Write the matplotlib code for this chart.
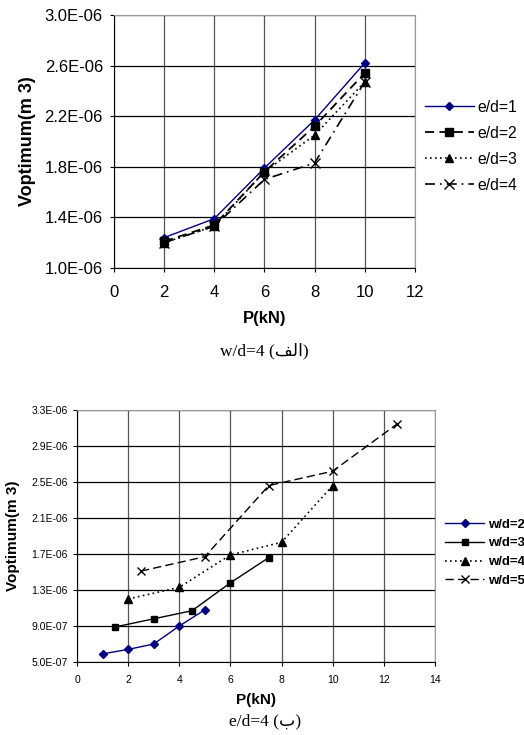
import matplotlib
matplotlib.use('Agg')
import matplotlib.pyplot as plt
from matplotlib.ticker import FuncFormatter

# ---- data: chart (a), w/d=4 ----
p_top = [2, 4, 6, 8, 10]
ed1 = [1.24e-6, 1.39e-6, 1.79e-6, 2.17e-6, 2.62e-6]
ed2 = [1.21e-6, 1.34e-6, 1.76e-6, 2.12e-6, 2.54e-6]
ed3 = [1.20e-6, 1.33e-6, 1.76e-6, 2.05e-6, 2.47e-6]
ed4 = [1.20e-6, 1.33e-6, 1.70e-6, 1.83e-6, 2.47e-6]
top_labels = ['e/d=1', 'e/d=2', 'e/d=3', 'e/d=4']

# ---- data: chart (b), e/d=4 ----
p_wd2 = [1, 2, 3, 4, 5]
wd2 = [0.59e-6, 0.64e-6, 0.70e-6, 0.90e-6, 1.08e-6]
p_wd3 = [1.5, 3, 4.5, 6, 7.5]
wd3 = [0.89e-6, 0.98e-6, 1.07e-6, 1.38e-6, 1.66e-6]
p_wd4 = [2, 4, 6, 8, 10]
wd4 = [1.20e-6, 1.33e-6, 1.69e-6, 1.83e-6, 2.46e-6]
p_wd5 = [2.5, 5, 7.5, 10, 12.5]
wd5 = [1.51e-6, 1.67e-6, 2.46e-6, 2.62e-6, 3.14e-6]
bot_labels = ['w/d=2', 'w/d=3', 'w/d=4', 'w/d=5']

# captions (Arabic letters in presentation forms, visual order)
cap_top = 'w/d=4 (\uFED2\uFEDF\uFE8D)'
cap_bot = 'e/d=4 (\uFE8F)'

plt.rcParams['font.family'] = ['Liberation Sans', 'DejaVu Sans']

navy = '#000080'
fmt = FuncFormatter(lambda v, pos: f'{v:.1E}')


def style_axes(ax, tick_size, pad):
    ax.set_axisbelow(True)
    ax.yaxis.grid(True, color='black', lw=0.9)
    ax.xaxis.grid(True, color='#555555', lw=0.9)
    ax.spines['top'].set_color('#999999')
    ax.spines['right'].set_color('#999999')
    ax.tick_params(direction='out', length=3, width=0.8, labelsize=tick_size, pad=pad)
    ax.yaxis.set_major_formatter(fmt)


fig = plt.figure(figsize=(5.24, 7.35), dpi=100)

# ---- chart (a) ----
ax1 = fig.add_axes([0.2176, 0.6354, 0.574, 0.3442])
ax1.plot(p_top, ed1, color=navy, lw=1, marker='D', ms=4.5, label=top_labels[0])
ax1.plot(p_top, ed2, color='black', lw=1.3, ls=(0, (5, 3)), marker='s', ms=6, label=top_labels[1])
ax1.plot(p_top, ed3, color='black', lw=1.2, ls=(0, (1, 2)), marker='^', ms=6, label=top_labels[2])
ax1.plot(p_top, ed4, color='black', lw=1.2, ls=(0, (6, 3, 1, 3)), marker='x', ms=7, mew=1, label=top_labels[3])
ax1.set_xlim(0, 12)
ax1.set_ylim(1.0e-6, 3.0e-6)
ax1.set_xticks(range(0, 13, 2))
ax1.set_yticks([1.0e-6 + 0.4e-6 * i for i in range(6)])
style_axes(ax1, 12, 5)
ax1.tick_params(axis='x', pad=9)
ax1.set_xlabel('P(kN)', fontsize=12, fontweight='bold', labelpad=8)
ax1.set_ylabel('Voptimum(m 3)', fontsize=13, fontweight='bold', labelpad=6)
ax1.legend(loc='center left', bbox_to_anchor=(0.811, 0.801), bbox_transform=fig.transFigure,
           frameon=False, fontsize=11.3, handlelength=3.1, handletextpad=0.25,
           labelspacing=0.7, borderpad=0, borderaxespad=0)

fig.text(0.505, 0.523, cap_top, ha='center', va='center', fontsize=12.5,
         family=['Liberation Serif', 'DejaVu Sans'])

# ---- chart (b) ----
ax2 = fig.add_axes([0.147, 0.0993, 0.683, 0.3429])
ax2.plot(p_wd2, wd2, color=navy, lw=1, marker='D', ms=4, label=bot_labels[0])
ax2.plot(p_wd3, wd3, color='black', lw=1, marker='s', ms=5, label=bot_labels[1])
ax2.plot(p_wd4, wd4, color='black', lw=1.2, ls=(0, (1, 2)), marker='^', ms=5.5, label=bot_labels[2])
ax2.plot(p_wd5, wd5, color='black', lw=1, ls=(0, (6, 3)), marker='x', ms=6, mew=1, label=bot_labels[3])
ax2.set_xlim(0, 14)
ax2.set_ylim(5.0e-7, 3.3e-6)
ax2.set_xticks(range(0, 15, 2))
ax2.set_yticks([5.0e-7 + 0.4e-6 * i for i in range(8)])
style_axes(ax2, 7.5, 3.5)
ax2.tick_params(axis='x', pad=6)
ax2.set_xlabel('P(kN)', fontsize=11, fontweight='bold', labelpad=6)
ax2.set_ylabel('Voptimum(m 3)', fontsize=11, fontweight='bold', labelpad=8)
ax2.legend(loc='center left', bbox_to_anchor=(0.849, 0.248), bbox_transform=fig.transFigure,
           frameon=False, prop={'size': 9.5, 'weight': 'bold'}, handlelength=3.0,
           handletextpad=0.25, labelspacing=0.5, borderpad=0, borderaxespad=0)

fig.text(0.505, 0.018, cap_bot, ha='center', va='center', fontsize=12.5,
         family=['Liberation Serif', 'DejaVu Sans'])

fig.savefig('out.png', dpi=100)
